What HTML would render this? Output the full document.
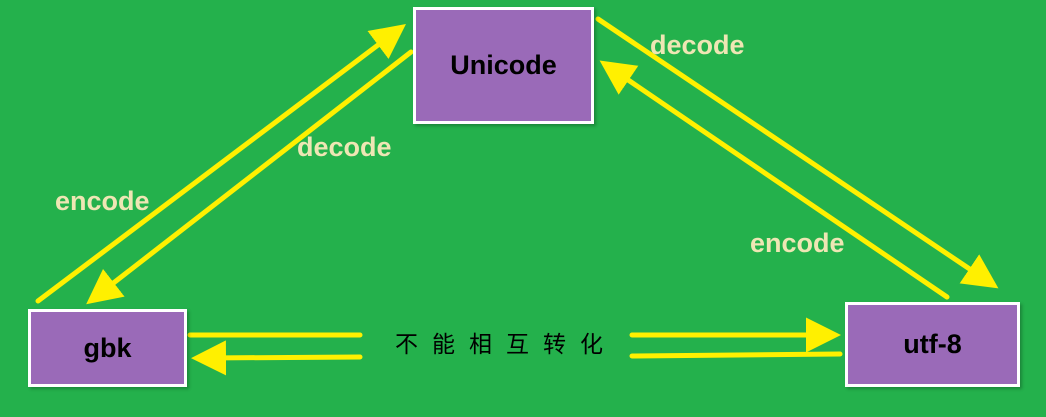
<!DOCTYPE html>
<html><head><meta charset="utf-8"><style>
body{margin:0;width:1046px;height:417px;background:#24B14C;overflow:hidden;position:relative;font-family:"Liberation Sans",sans-serif}
.box{position:absolute;background:#9A6AB8;border:3px solid #fff;box-sizing:border-box;display:flex;align-items:center;justify-content:center;font-weight:bold;font-size:27px;color:#000;box-shadow:2px 2px 3px rgba(0,0,0,.25)}
.lb{position:absolute;color:#EEE6B4;font-weight:bold;font-size:27px}
</style></head><body>
<svg width="1046" height="417" style="position:absolute;left:0;top:0">
<defs><marker id="a" markerWidth="7" markerHeight="7" refX="4" refY="3.5" orient="auto" markerUnits="strokeWidth"><path d="M0,0 L7,3.5 L0,7 z" fill="#FFF000"/></marker></defs>
<g stroke="#FFF000" stroke-width="5" fill="none" stroke-linecap="round">
<line x1="38" y1="301" x2="394" y2="33" marker-end="url(#a)"/>
<line x1="411" y1="52" x2="98" y2="295" marker-end="url(#a)"/>
<line x1="598" y1="19" x2="986" y2="280" marker-end="url(#a)"/>
<line x1="947" y1="297" x2="612" y2="69" marker-end="url(#a)"/>
<line x1="190" y1="335" x2="360" y2="335"/>
<line x1="360" y1="357" x2="206" y2="358" marker-end="url(#a)"/>
<line x1="632" y1="335" x2="826" y2="335" marker-end="url(#a)"/>
<line x1="632" y1="356" x2="840" y2="354"/>
</g></svg>
<div class="box" style="left:413px;top:7px;width:181px;height:117px">Unicode</div>
<div class="box" style="left:28px;top:309px;width:159px;height:78px">gbk</div>
<div class="box" style="left:845px;top:302px;width:175px;height:85px">utf-8</div>
<div class="lb" style="left:55px;top:186px">encode</div>
<div class="lb" style="left:297px;top:132px">decode</div>
<div class="lb" style="left:650px;top:30px">decode</div>
<div class="lb" style="left:750px;top:228px">encode</div>
<div style="position:absolute;left:395px;top:325px;font-size:23px;letter-spacing:14px;font-family:'Liberation Sans','Noto Sans CJK SC',sans-serif;color:#000">不能相互转化</div>
</body></html>
